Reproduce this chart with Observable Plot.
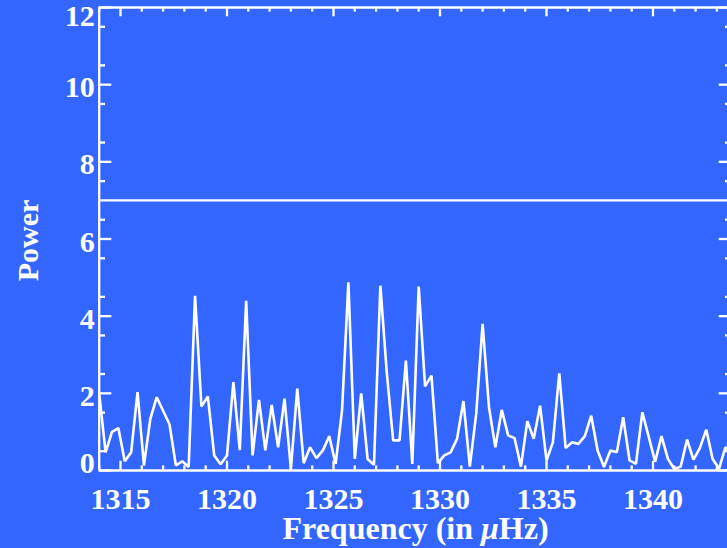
<!DOCTYPE html>
<html>
<head>
<meta charset="utf-8">
<script src="https://cdn.jsdelivr.net/npm/d3@7"></script>
<script src="https://cdn.jsdelivr.net/npm/@observablehq/plot@0.6"></script>
<style>
  html, body { margin: 0; padding: 0; background: #3366ff; overflow: hidden; }
  #chart svg { display: block; max-width: none; }
</style>
</head>
<body>
<div id="chart"></div>
<script>
// Power spectrum sampled every 0.3 µHz
const frequency = [
  1314.0, 1314.3, 1314.6, 1314.9, 1315.2, 1315.5, 1315.8, 1316.1, 1316.4, 1316.7,
  1317.0, 1317.3, 1317.6, 1317.9, 1318.2, 1318.5, 1318.8, 1319.1, 1319.4, 1319.7,
  1320.0, 1320.3, 1320.6, 1320.9, 1321.2, 1321.5, 1321.8, 1322.1, 1322.4, 1322.7,
  1323.0, 1323.3, 1323.6, 1323.9, 1324.2, 1324.5, 1324.8, 1325.1, 1325.4, 1325.7,
  1326.0, 1326.3, 1326.6, 1326.9, 1327.2, 1327.5, 1327.8, 1328.1, 1328.4, 1328.7,
  1329.0, 1329.3, 1329.6, 1329.9, 1330.2, 1330.5, 1330.8, 1331.1, 1331.4, 1331.7,
  1332.0, 1332.3, 1332.6, 1332.9, 1333.2, 1333.5, 1333.8, 1334.1, 1334.4, 1334.7,
  1335.0, 1335.3, 1335.6, 1335.9, 1336.2, 1336.5, 1336.8, 1337.1, 1337.4, 1337.7,
  1338.0, 1338.3, 1338.6, 1338.9, 1339.2, 1339.5, 1339.8, 1340.1, 1340.4, 1340.7,
  1341.0, 1341.3, 1341.6, 1341.9, 1342.2, 1342.5, 1342.8, 1343.1, 1343.4, 1343.7
];
const power = [
  2.00, 0.47, 1.00, 1.10, 0.24, 0.47, 2.03, 0.13, 1.34, 1.90,
  1.55, 1.20, 0.13, 0.24, 0.09, 4.53, 1.66, 1.92, 0.39, 0.16,
  0.39, 2.29, 0.53, 4.40, 0.39, 1.83, 0.52, 1.70, 0.60, 1.86,
  0.04, 2.12, 0.19, 0.60, 0.32, 0.52, 0.89, 0.17, 1.55, 4.88,
  0.30, 2.00, 0.30, 0.15, 4.79, 2.55, 0.78, 0.78, 2.85, 0.17,
  4.77, 2.18, 2.46, 0.19, 0.39, 0.47, 0.82, 1.80, 0.10, 1.47,
  3.80, 1.64, 0.60, 1.57, 0.91, 0.84, 0.10, 1.28, 0.82, 1.68,
  0.26, 0.73, 2.52, 0.58, 0.73, 0.69, 0.89, 1.42, 0.52, 0.09,
  0.52, 0.47, 1.38, 0.26, 0.17, 1.51, 0.87, 0.23, 0.89, 0.30,
  0.04, 0.10, 0.80, 0.28, 0.58, 1.06, 0.30, 0.05, 0.60, 0.50
];

// Significance threshold
const threshold = [7];

// Axis ticks
const xMajorTicks = [1315, 1320, 1325, 1330, 1335, 1340];
const yMajorTicks = [0, 2, 4, 6, 8, 10, 12];
const xDomain = [1314.0, 1343.7];
const yDomain = [0, 12];

const xMinorTicks = d3.range(1314, 1344).filter(v => v % 5 !== 0);
const yMinorTicks = d3.range(0.5, 12, 1);

const data = frequency.map((f, i) => ({frequency: f, power: power[i]}));

// Plot box in pixels
const xRange = [98.7, 731.3];
const yRange = [470, 7];
const W = 727, H = 548;

// Tick lengths (pixels) converted to data units
const pxPerX = (xRange[1] - xRange[0]) / (xDomain[1] - xDomain[0]);
const pxPerY = (yRange[0] - yRange[1]) / (yDomain[1] - yDomain[0]);
const xTickMajor = 9.3 / pxPerY, xTickMinor = 4.6 / pxPerY;
const yTickMajor = 12.6 / pxPerX, yTickMinor = 6.3 / pxPerX;

const ink = "white";
const font = "Liberation Serif";
const sw = 2.3;

const [x0, x1] = xDomain;
const [y0, y1] = yDomain;

const chart = Plot.plot({
  width: W,
  height: H,
  marginLeft: 99,
  marginRight: 0,
  marginTop: 7,
  marginBottom: 78,
  style: {background: "#3366ff", color: ink, fontFamily: font},
  x: {domain: xDomain, range: xRange, axis: null},
  y: {domain: yDomain, range: yRange, axis: null},
  marks: [
    // box
    Plot.ruleX([x0, x1], {y1: y0, y2: y1, stroke: ink, strokeWidth: sw}),
    Plot.ruleY([y0, y1], {x1: x0, x2: x1, stroke: ink, strokeWidth: sw}),
    // x ticks, bottom and top, pointing inwards
    Plot.ruleX(xMajorTicks, {y1: y0, y2: y0 + xTickMajor, stroke: ink, strokeWidth: sw}),
    Plot.ruleX(xMinorTicks, {y1: y0, y2: y0 + xTickMinor, stroke: ink, strokeWidth: sw}),
    Plot.ruleX(xMajorTicks, {y1: y1 - xTickMajor, y2: y1, stroke: ink, strokeWidth: sw}),
    Plot.ruleX(xMinorTicks, {y1: y1 - xTickMinor, y2: y1, stroke: ink, strokeWidth: sw}),
    // y ticks, left and right
    Plot.ruleY(yMajorTicks, {x1: x0, x2: x0 + yTickMajor, stroke: ink, strokeWidth: sw}),
    Plot.ruleY(yMinorTicks, {x1: x0, x2: x0 + yTickMinor, stroke: ink, strokeWidth: sw}),
    Plot.ruleY(yMajorTicks, {x1: x1 - yTickMajor, x2: x1, stroke: ink, strokeWidth: sw}),
    Plot.ruleY(yMinorTicks, {x1: x1 - yTickMinor, x2: x1, stroke: ink, strokeWidth: sw}),
    // threshold line
    Plot.ruleY(threshold, {x1: x0, x2: x1, stroke: ink, strokeWidth: sw}),
    // spectrum
    Plot.line(data, {x: "frequency", y: "power", stroke: ink, strokeWidth: 2.6, strokeLinejoin: "miter"}),
    // x tick labels
    Plot.text(xMajorTicks, {x: d => d, y: y0, dy: 29, text: d => String(d),
      fontSize: 30, fontWeight: "bold", fill: ink, textAnchor: "middle", lineAnchor: "middle"}),
    // y tick labels (end labels kept inside the box)
    Plot.text(yMajorTicks.filter(d => d > y0 && d < y1), {x: x0, y: d => d, dx: -4.5, dy: 3, text: d => String(d),
      fontSize: 30, fontWeight: "bold", fill: ink, textAnchor: "end", lineAnchor: "middle"}),
    Plot.text([y0], {x: x0, y: d => d, dx: -4.5, dy: -7, text: d => String(d),
      fontSize: 30, fontWeight: "bold", fill: ink, textAnchor: "end", lineAnchor: "middle"}),
    Plot.text([y1], {x: x0, y: d => d, dx: -4.5, dy: 8.7, text: d => String(d),
      fontSize: 30, fontWeight: "bold", fill: ink, textAnchor: "end", lineAnchor: "middle"}),
    // axis titles
    Plot.text(["Frequency (in μHz)"], {frameAnchor: "bottom", dx: 2, dy: 58, text: d => d,
      fontSize: 32, fontWeight: "bold", fill: ink, textAnchor: "middle", lineAnchor: "middle"}),
    Plot.text(["Power"], {frameAnchor: "left", dx: -71, dy: 1.5, rotate: -90, text: d => d,
      fontSize: 30, fontWeight: "bold", fill: ink, textAnchor: "middle", lineAnchor: "middle"})
  ]
});

// Greek mu in italics
d3.select(chart).selectAll("text")
  .filter(function() { return this.textContent.includes("μ"); })
  .each(function() {
    const parts = this.textContent.split("μ");
    const t = d3.select(this);
    t.text(null);
    t.append("tspan").text(parts[0]);
    t.append("tspan").attr("font-style", "italic").text("μ");
    t.append("tspan").text(parts[1]);
  });

document.getElementById("chart").append(chart);
</script>
</body>
</html>
